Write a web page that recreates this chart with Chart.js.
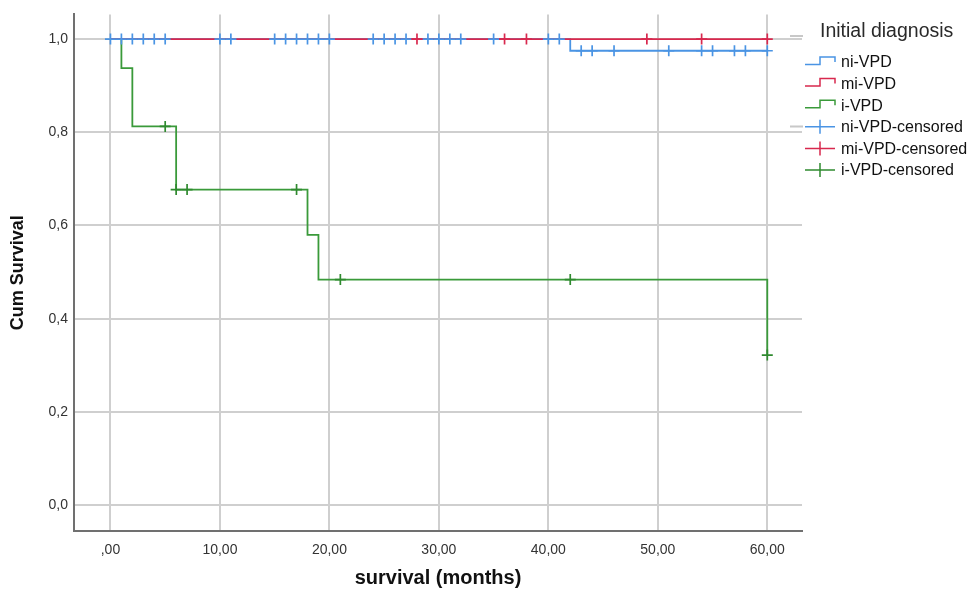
<!DOCTYPE html>
<html lang="en">
<head>
    <meta charset="UTF-8" />
    <title>Cum Survival</title>
    <style>
        body { margin: 0; background: #fff; }
        #wrap { width: 973px; height: 594px; position: relative; }
    </style>
    <script src="https://cdn.jsdelivr.net/npm/chart.js"></script>
</head>
<body>
<div id="wrap"><canvas id="chart" width="973" height="594"></canvas></div>
<script>
    // axis ticks
    const xTicks = [0, 10, 20, 30, 40, 50, 60];
    const xTickLabels = [",00", "10,00", "20,00", "30,00", "40,00", "50,00", "60,00"];
    const yTicks = [0, 0.2, 0.4, 0.6, 0.8, 1.0];
    const yTickLabels = ["0,0", "0,2", "0,4", "0,6", "0,8", "1,0"];

    // step curves: event time, survival after the event
    const niTimes = [0, 42, 60];
    const niSurv = [1, 0.975, 0.975];
    const miTimes = [0, 60];
    const miSurv = [1, 1];
    const iTimes = [0, 1, 2, 6, 18, 19, 60];
    const iSurv = [1, 0.9375, 0.8125, 0.677, 0.58, 0.484, 0.322];

    // censored marks
    const niCensTimes = [0, 1, 2, 3, 4, 5, 10, 11, 15, 16, 17, 18, 19, 20, 24, 25, 26, 27, 29, 30, 31, 32, 35, 40, 41,
        43, 44, 46, 51, 54, 55, 57, 58, 60];
    const niCensSurv = [1, 1, 1, 1, 1, 1, 1, 1, 1, 1, 1, 1, 1, 1, 1, 1, 1, 1, 1, 1, 1, 1, 1, 1, 1,
        0.975, 0.975, 0.975, 0.975, 0.975, 0.975, 0.975, 0.975, 0.975];
    const miCensTimes = [28, 36, 38, 49, 54, 60];
    const miCensSurv = [1, 1, 1, 1, 1, 1];
    const iCensTimes = [5, 6, 7, 17, 21, 42, 60];
    const iCensSurv = [0.8125, 0.677, 0.677, 0.677, 0.484, 0.484, 0.322];

    const legendTitle = "Initial diagnosis";

    const BLUE = "#4a94e4";
    const RED = "#d8284e";
    const GREEN = "#3a9a3a";

    function pts(xs, ys) {
        return xs.map((x, i) => ({ x: x, y: ys[i] }));
    }

    function stepSet(label, xs, ys, color, order) {
        return {
            label: label,
            data: pts(xs, ys),
            borderColor: color,
            borderWidth: 1.8,
            stepped: "before",
            pointRadius: 0,
            fill: false,
            order: order,
        };
    }

    function censSet(label, xs, ys, color, order) {
        return {
            label: label,
            data: pts(xs, ys),
            showLine: false,
            pointStyle: "cross",
            pointRadius: 5.5,
            pointBorderWidth: 1.7,
            pointBorderColor: color,
            pointBackgroundColor: color,
            borderColor: color,
            order: order,
        };
    }

    // custom legend in the SPSS style
    const kmLegend = {
        id: "kmLegend",
        afterDraw(chart) {
            const ctx = chart.ctx;
            ctx.save();
            ctx.strokeStyle = "#c8c8c8";
            ctx.lineWidth = 2;
            ctx.beginPath();
            ctx.moveTo(790, 36); ctx.lineTo(803, 36);
            ctx.moveTo(790, 126.5); ctx.lineTo(803, 126.5);
            ctx.stroke();

            ctx.fillStyle = "#2a2a2a";
            ctx.font = '19.5px Arial, "Liberation Sans", sans-serif';
            ctx.textBaseline = "alphabetic";
            ctx.fillText(legendTitle, 820, 37);

            chart.data.datasets.forEach((ds, i) => {
                const y = 62 + i * 21.6;
                ctx.strokeStyle = ds.borderColor;
                ctx.lineWidth = 1.5;
                ctx.beginPath();
                if (ds.showLine === false) {
                    ctx.moveTo(805, y); ctx.lineTo(835, y);
                    ctx.moveTo(820, y - 7); ctx.lineTo(820, y + 7);
                } else {
                    ctx.moveTo(805, y + 2.5); ctx.lineTo(820, y + 2.5);
                    ctx.lineTo(820, y - 5); ctx.lineTo(835, y - 5);
                    ctx.lineTo(835, y);
                }
                ctx.stroke();
                ctx.fillStyle = "#111";
                ctx.font = '16px Arial, "Liberation Sans", sans-serif';
                ctx.textBaseline = "middle";
                ctx.fillText(ds.label, 841, y + 1);
            });
            ctx.restore();
        },
    };

    Chart.defaults.font.family = 'Arial, "Liberation Sans", sans-serif';

    new Chart(document.getElementById("chart"), {
        type: "line",
        data: {
            datasets: [
                stepSet("ni-VPD", niTimes, niSurv, BLUE, 4),
                stepSet("mi-VPD", miTimes, miSurv, RED, 3),
                stepSet("i-VPD", iTimes, iSurv, GREEN, 5),
                censSet("ni-VPD-censored", niCensTimes, niCensSurv, BLUE, 1),
                censSet("mi-VPD-censored", miCensTimes, miCensSurv, RED, 0),
                censSet("i-VPD-censored", iCensTimes, iCensSurv, "#2f8a2f", 2),
            ],
        },
        options: {
            responsive: false,
            animation: false,
            layout: { padding: { top: 12, right: 171, left: 0, bottom: 0 } },
            plugins: {
                legend: { display: false },
                tooltip: { enabled: false },
            },
            scales: {
                x: {
                    type: "linear",
                    min: -3.33,
                    max: 63.17,
                    afterBuildTicks: (s) => { s.ticks = xTicks.map((v) => ({ value: v })); },
                    afterFit: (s) => { s.height = 63; },
                    grid: { color: "#cfcfcf", lineWidth: 2, drawTicks: false },
                    border: { display: true, color: "#707070", width: 2 },
                    ticks: {
                        padding: 11,
                        color: "#333",
                        font: { size: 14 },
                        maxRotation: 0,
                        callback: (v) => xTickLabels[xTicks.indexOf(v)],
                    },
                    title: {
                        display: true,
                        text: "survival (months)",
                        color: "#111",
                        font: { size: 20, weight: "bold" },
                        padding: { top: 0, bottom: 4 },
                    },
                },
                y: {
                    min: -0.0556,
                    max: 1.053,
                    afterBuildTicks: (s) => { s.ticks = yTicks.map((v) => ({ value: v })); },
                    afterFit: (s) => { s.width = 74; },
                    grid: { color: "#cfcfcf", lineWidth: 2, drawTicks: false },
                    border: { display: true, color: "#707070", width: 2 },
                    ticks: {
                        padding: 6,
                        color: "#333",
                        font: { size: 14 },
                        callback: (v) => yTickLabels[yTicks.indexOf(v)],
                    },
                    title: {
                        display: true,
                        text: "Cum Survival",
                        color: "#111",
                        font: { size: 18, weight: "bold" },
                        padding: { top: 7, bottom: 0 },
                    },
                },
            },
        },
        plugins: [kmLegend],
    });
</script>
</body>
</html>
